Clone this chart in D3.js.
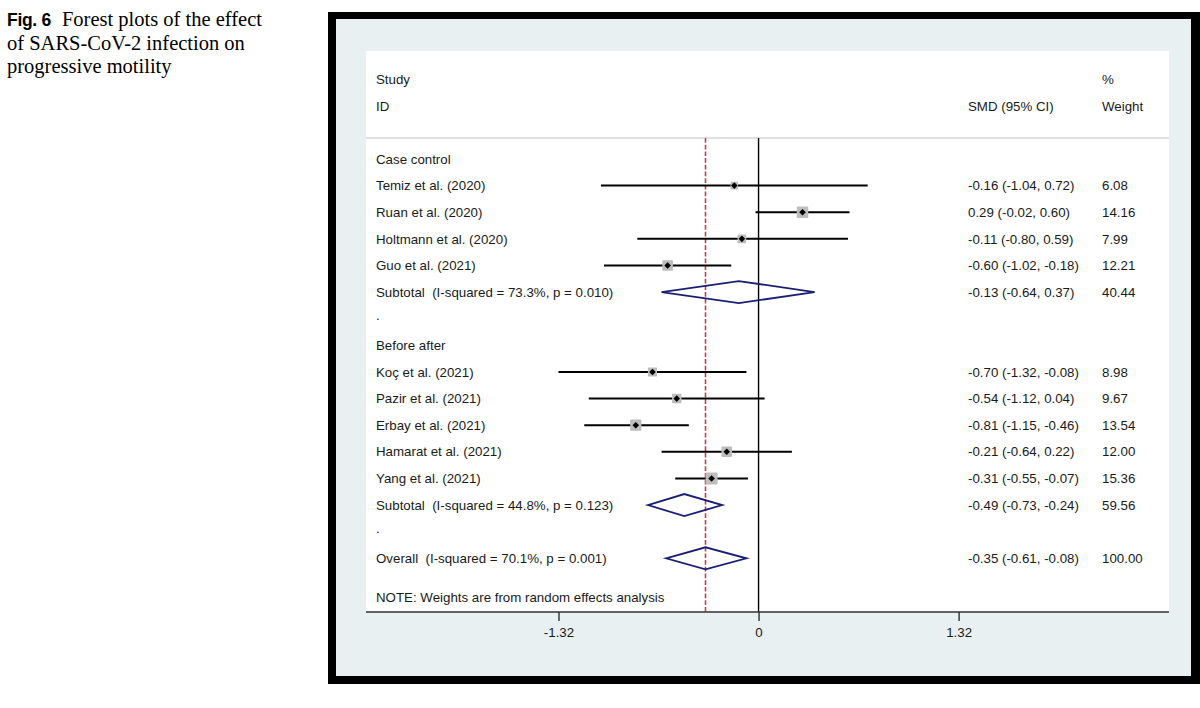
<!DOCTYPE html>
<html><head><meta charset="utf-8">
<script src="https://cdn.jsdelivr.net/npm/d3@7"></script>
<style>
html,body{margin:0;padding:0;background:#fff;}
svg{display:block;}
text{white-space:pre;}
</style></head>
<body>
<svg id="chart" width="1200" height="708"></svg>
<script>
// ---- data ----
const groups = ["Case control", "Before after"];
const studies = ["Temiz et al. (2020)", "Ruan et al. (2020)", "Holtmann et al. (2020)", "Guo et al. (2021)",
                 "Koç et al. (2021)", "Pazir et al. (2021)", "Erbay et al. (2021)", "Hamarat et al. (2021)", "Yang et al. (2021)"];
const studyGroup = [0, 0, 0, 0, 1, 1, 1, 1, 1];
const smd   = [-0.16, 0.29, -0.11, -0.60, -0.70, -0.54, -0.81, -0.21, -0.31];
const lower = [-1.04, -0.02, -0.80, -1.02, -1.32, -1.12, -1.15, -0.64, -0.55];
const upper = [0.72, 0.60, 0.59, -0.18, -0.08, 0.04, -0.46, 0.22, -0.07];
const weight = [6.08, 14.16, 7.99, 12.21, 8.98, 9.67, 13.54, 12.00, 15.36];
const subLabels = ["Subtotal  (I-squared = 73.3%, p = 0.010)", "Subtotal  (I-squared = 44.8%, p = 0.123)"];
const subSmd = [-0.13, -0.49];
const subLower = [-0.64, -0.73];
const subUpper = [0.37, -0.24];
const subWeight = [40.44, 59.56];
const overallLabel = "Overall  (I-squared = 70.1%, p = 0.001)";
const overall = {smd: -0.35, lower: -0.61, upper: -0.08, weight: 100.00};
const tickValues = [-1.32, 0, 1.32];
const tickLabels = ["-1.32", "0", "1.32"];
const noteText = "NOTE: Weights are from random effects analysis";
const captionBold = "Fig. 6";
const captionLines = ["Forest plots of the effect", "of SARS-CoV-2 infection on", "progressive motility"];

// ---- build rows ----
const rows = [];
let r = 0;
groups.forEach((g, gi) => {
  rows.push({type: "group", label: g, row: r++});
  studies.forEach((s, i) => {
    if (studyGroup[i] === gi) rows.push({type: "study", label: s, smd: smd[i], lo: lower[i], hi: upper[i], w: weight[i], row: r++});
  });
  rows.push({type: "sub", label: subLabels[gi], smd: subSmd[gi], lo: subLower[gi], hi: subUpper[gi], w: subWeight[gi], row: r++});
  rows.push({type: "dot", label: ".", row: r++});
});
rows.push({type: "sub", label: overallLabel, smd: overall.smd, lo: overall.lower, hi: overall.upper, w: overall.weight, row: r++});

const fmt = v => v.toFixed(2);
const svg = d3.select("#chart");
const font = "'Liberation Sans', Arial, Helvetica, sans-serif";
const serif = "'Liberation Serif', 'Times New Roman', serif";

// caption
const cap = svg.append("text").attr("x", 7).attr("y", 26)
  .style("font-family", serif).style("font-size", "20.5px").attr("fill", "#000");
cap.append("tspan").text(captionBold).style("font-family", font).style("font-weight", "bold").style("font-size", "17.5px").attr("letter-spacing", "-0.3");
cap.append("tspan").text(captionLines[0]).attr("dx", 11);
captionLines.slice(1).forEach((t, i) => {
  svg.append("text").attr("x", 7).attr("y", 26 + (i + 1) * 23.5)
    .style("font-family", serif).style("font-size", "20.5px").attr("fill", "#000").text(t);
});

// frame
svg.append("rect").attr("x", 328).attr("y", 12).attr("width", 872).attr("height", 672).attr("fill", "#000");
svg.append("rect").attr("x", 336).attr("y", 19).attr("width", 855).attr("height", 657).attr("fill", "#e8f0f2");
svg.append("rect").attr("x", 366).attr("y", 51).attr("width", 803).attr("height", 561).attr("fill", "#fff");

// scales
const x = d3.scaleLinear().domain([-1.32, 1.32]).range([558.5, 958.6]);
const y = d3.scaleLinear().domain([0, 15]).range([159, 558.3]);
const yTop = 138, yBottom = 612;

// header
const tx = 376, smdX = 968, wX = 1102;
const txt = (xx, yy, t) => svg.append("text").attr("x", xx).attr("y", yy).attr("dy", "0.35em")
  .style("font-family", font).style("font-size", "13.3px").attr("fill", "#1a1a1a").text(t);
txt(tx, 79, "Study"); txt(tx, 106, "ID");
txt(smdX, 106, "SMD (95% CI)"); txt(wX, 79, "%"); txt(wX, 106, "Weight");
svg.append("line").attr("x1", 366).attr("x2", 1169).attr("y1", yTop).attr("y2", yTop).attr("stroke", "#c4c4c4").attr("stroke-width", 1.2);

// reference lines
svg.append("line").attr("x1", x(0)).attr("x2", x(0)).attr("y1", yTop).attr("y2", yBottom).attr("stroke", "#000").attr("stroke-width", 1.4);
svg.append("line").attr("x1", x(overall.smd)).attr("x2", x(overall.smd)).attr("y1", yTop).attr("y2", yBottom)
  .attr("stroke", "#c0414f").attr("stroke-width", 1.6).attr("stroke-dasharray", "4.7,2");

// rows
rows.forEach(d => {
  const yy = y(d.row);
  if (d.type === "dot") {
    txt(tx, yy - 3, ".");
    return;
  }
  txt(tx, yy, d.label);
  if (d.type === "study") {
    svg.append("line").attr("x1", x(d.lo)).attr("x2", x(d.hi)).attr("y1", yy).attr("y2", yy).attr("stroke", "#000").attr("stroke-width", 2);
    const s = 3.05 * Math.sqrt(d.w);
    svg.append("rect").attr("x", x(d.smd) - s / 2).attr("y", yy - s / 2).attr("width", s).attr("height", s).attr("rx", 1).attr("fill", "#bdbdbd");
    const p = 3.3;
    svg.append("path").attr("d", `M${x(d.smd) - p},${yy}L${x(d.smd)},${yy - p}L${x(d.smd) + p},${yy}L${x(d.smd)},${yy + p}Z`).attr("fill", "#000");
  }
  if (d.type === "sub") {
    const h = 11;
    svg.append("path").attr("d", `M${x(d.lo)},${yy}L${x(d.smd)},${yy - h}L${x(d.hi)},${yy}L${x(d.smd)},${yy + h}Z`)
      .attr("fill", "none").attr("stroke", "#1a1f72").attr("stroke-width", 1.8);
  }
  if (d.type !== "group") {
    txt(smdX, yy, `${fmt(d.smd)} (${fmt(d.lo)}, ${fmt(d.hi)})`);
    txt(wX, yy, fmt(d.w));
  }
});
txt(tx, y(16.5) - 0.5, noteText);

// axis
const axis = d3.axisBottom(x).tickValues(tickValues).tickFormat((d, i) => tickLabels[i]).tickSize(9).tickPadding(7);
const ag = svg.append("g").attr("transform", `translate(0,${yBottom})`).call(axis);
ag.select(".domain").remove();
ag.selectAll("line").attr("stroke", "#222").attr("stroke-width", 1.3);
ag.selectAll("text").style("font-family", font).style("font-size", "13.3px").attr("fill", "#1a1a1a");
svg.append("line").attr("x1", 366).attr("x2", 1169).attr("y1", yBottom).attr("y2", yBottom).attr("stroke", "#333").attr("stroke-width", 1.5);
</script>
</body></html>
